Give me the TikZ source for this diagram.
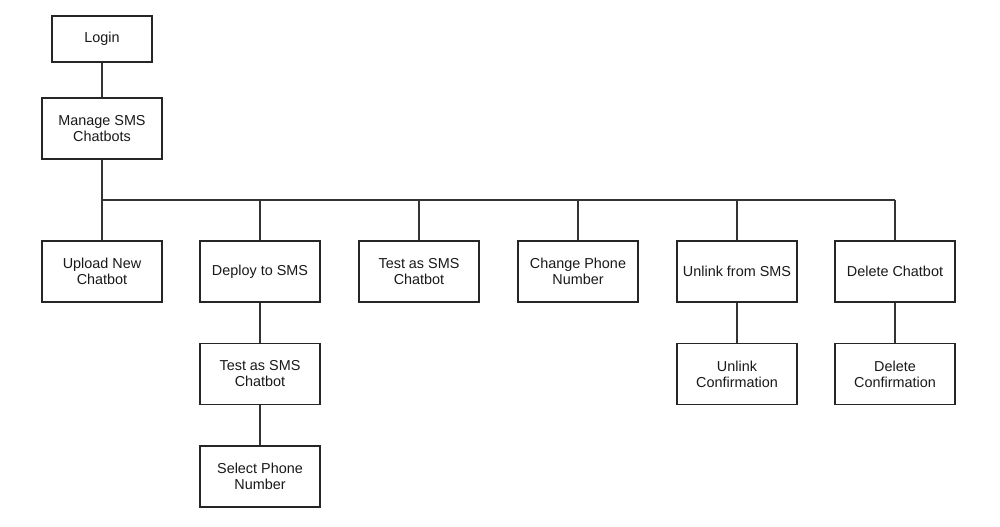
\documentclass[tikz,border=0pt]{standalone}
\usepackage{fontspec}
\setmainfont{Liberation Sans}
\begin{document}
\begin{tikzpicture}[x=0.75pt,y=-0.75pt,
  box/.style={draw=black!85,line width=0.8pt,fill=white,minimum width=90pt,minimum height=45.75pt,align=center,inner sep=0pt,font=\fontsize{10.8}{12}\selectfont,text=black!90},
  link/.style={draw=black!80,line width=0.8pt}]
\useasboundingbox (0,0) rectangle (1000,527);
\node[box,minimum width=75pt,minimum height=34.5pt] (login) at (102,39) {\raisebox{-1.5pt}{Login}};
\node[box] (manage) at (102,128.5) {Manage SMS\\Chatbots};
\node[box] (upload) at (102,271.5) {Upload New\\Chatbot};
\node[box] (deploy) at (260,271.5) {\raisebox{-1.5pt}{Deploy to SMS}};
\node[box] (test) at (419,271.5) {Test as SMS\\Chatbot};
\node[box] (change) at (578,271.5) {Change Phone\\Number};
\node[box] (unlink) at (737,271.5) {\raisebox{-1.5pt}{Unlink from SMS}};
\node[box] (delete) at (895,271.5) {\raisebox{-1.5pt}{Delete Chatbot}};
\node[box] (test2) at (260,374) {Test as SMS\\Chatbot};
\node[box] (select) at (260,476.5) {Select Phone\\Number};
\node[box] (unlinkc) at (737,374) {Unlink\\Confirmation};
\node[box] (deletec) at (895,374) {Delete\\Confirmation};
\coordinate (busL) at (102,200);
\coordinate (busR) at (895,200);
\draw[link] (login.south) -- (manage.north);
\draw[link] (manage.south) -- (upload.north);
\draw[link] (busL) -- (busR);
\foreach \n in {deploy,test,change,unlink,delete}
  \draw[link] (\n.north) -- (\n.north |- busL);
\draw[link] (deploy.south) -- (test2.north);
\draw[link] (test2.south) -- (select.north);
\draw[link] (unlink.south) -- (unlinkc.north);
\draw[link] (delete.south) -- (deletec.north);
\end{tikzpicture}
\end{document}
